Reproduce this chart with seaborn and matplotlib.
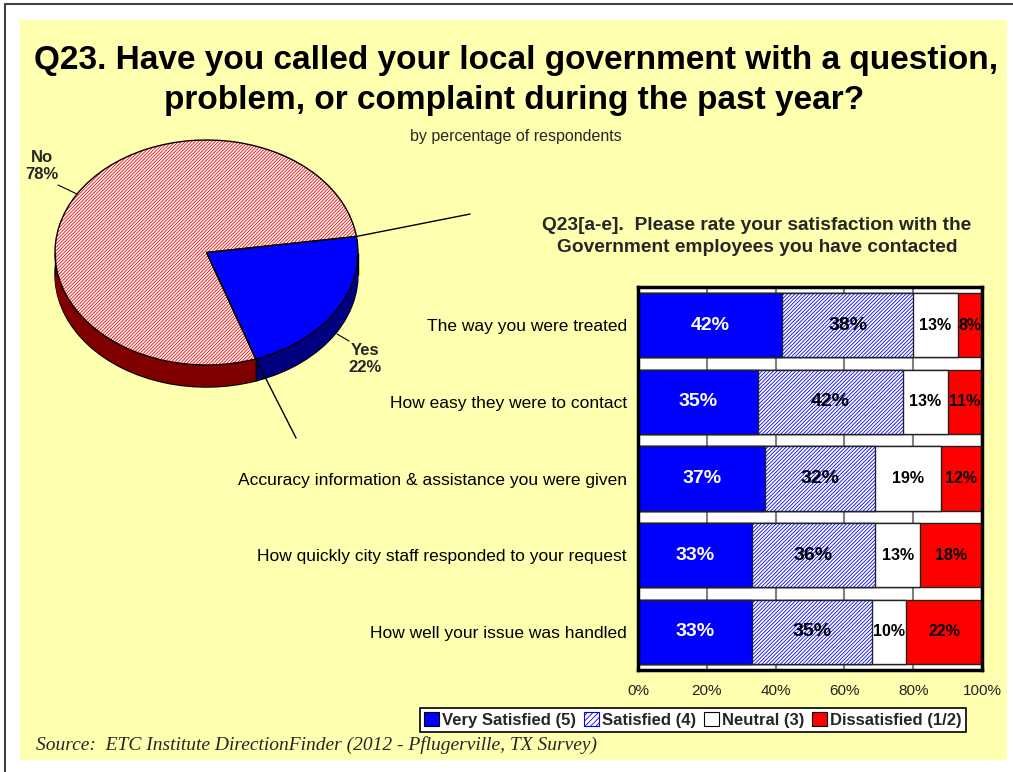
import numpy as np
import pandas as pd
import matplotlib
matplotlib.use("Agg")
import matplotlib.pyplot as plt
from matplotlib.patches import Rectangle, Patch
from matplotlib.lines import Line2D
import seaborn as sns

# Q23: called local government during the past year
pie_labels = ["Yes", "No"]
pie_values = [22, 78]

# Q23[a-e]: satisfaction with government employees (percent of respondents)
items = [
    "The way you were treated",
    "How easy they were to contact",
    "Accuracy information & assistance you were given",
    "How quickly city staff responded to your request",
    "How well your issue was handled",
]
very_satisfied = [42, 35, 37, 33, 33]
satisfied = [38, 42, 32, 36, 35]
neutral = [13, 13, 19, 13, 10]
dissatisfied = [8, 11, 12, 18, 22]
rating_names = ["Very Satisfied (5)", "Satisfied (4)", "Neutral (3)", "Dissatisfied (1/2)"]
x_ticks = [0, 20, 40, 60, 80, 100]
x_tick_labels = ["0%", "20%", "40%", "60%", "80%", "100%"]

BLUE = "#0000FF"
NAVY = "#000080"
RED = "#FF0000"
MAROON = "#800000"
PANEL = "#FFFFB0"
EDGE = "#222222"
BAR_HATCH = "/" * 9
PIE_HATCH = "/" * 10

sns.set_style("white")
plt.rcParams["font.family"] = ["Liberation Sans", "DejaVu Sans"]
plt.rcParams["hatch.linewidth"] = 0.6

W, H = 1013, 772
fig = plt.figure(figsize=(W / 100, H / 100), dpi=100, facecolor="white")


def px_rect(left, top, right, bottom):
    return [left / W, 1 - bottom / H, (right - left) / W, (bottom - top) / H]


# page frame and yellow slide panel
fig.add_artist(Rectangle((20 / W, 1 - 760 / H), 987 / W, 740 / H,
                         transform=fig.transFigure, facecolor=PANEL,
                         edgecolor="none", zorder=-10))
fig.add_artist(Line2D([5 / W, 1], [1 - 4 / H, 1 - 4 / H], transform=fig.transFigure,
                      color="#404040", lw=1.5))
fig.add_artist(Line2D([5 / W, 5 / W], [0, 1 - 4 / H], transform=fig.transFigure,
                      color="#404040", lw=1.5))

# ---------------- stacked satisfaction bars ----------------
ax = fig.add_axes(px_rect(638, 287, 982, 670))
ax.set_facecolor("white")

df = pd.DataFrame({"item": items, "v1": very_satisfied, "v2": satisfied,
                   "v3": neutral, "v4": dissatisfied})
df["c1"] = df["v1"]
df["c2"] = df["c1"] + df["v2"]
df["c3"] = df["c2"] + df["v3"]
df["c4"] = df["c3"] + df["v4"]

bar_kw = dict(data=df, y="item", orient="y", width=0.84, saturation=1, ax=ax)
sns.barplot(x="c4", color=RED, edgecolor=EDGE, linewidth=1, **bar_kw)
sns.barplot(x="c3", color="white", edgecolor=EDGE, linewidth=1, **bar_kw)
sns.barplot(x="c2", color="white", edgecolor=BLUE, linewidth=0, **bar_kw)
for p in ax.containers[-1]:
    p.set_hatch(BAR_HATCH)
    p.set_edgecolor(BLUE)
    p.set_linewidth(0)
sns.barplot(x="c2", color=EDGE, fill=False, linewidth=1, **bar_kw)
sns.barplot(x="c1", color=BLUE, edgecolor=EDGE, linewidth=1, **bar_kw)

segments = [very_satisfied, satisfied, neutral, dissatisfied]
for i in range(len(items)):
    left = 0
    for k, vals in enumerate(segments):
        v = vals[i]
        right = min(left + v, 100)
        ax.text((left + right) / 2, i, f"{v}%", ha="center", va="center",
                fontsize=14 if k < 2 else 11.5, fontweight="bold",
                color="white" if k == 0 else "black", zorder=5)
        left += v

ax.set_xlim(0, 100)
ax.set_xticks(x_ticks, x_tick_labels)
ax.set_xlabel("")
ax.set_ylabel("")
ax.xaxis.grid(True, color="#808080", lw=1.5)
ax.set_axisbelow(True)
ax.tick_params(axis="x", length=0, pad=10, labelsize=11, labelcolor="#222222")
ax.tick_params(axis="y", length=0, pad=8, labelsize=12.5, labelcolor="black")
for s in ax.spines.values():
    s.set_visible(True)
    s.set_linewidth(2.5)
    s.set_color("black")
    s.set_zorder(6)

# ---------------- 3-D style pie ----------------
pax = fig.add_axes(px_rect(39.85, 128.75, 373.15, 410))
start = -71
depth = 0.196
side_colors = [NAVY, MAROON]

pax.pie(pie_values, startangle=start, center=(0, -depth), colors=side_colors,
        wedgeprops=dict(edgecolor="black", linewidth=1))
for d in np.linspace(depth, 0, 45, endpoint=False)[1:]:
    pax.pie(pie_values, startangle=start, center=(0, -d), colors=side_colors,
            wedgeprops=dict(linewidth=0))

top_wedges, _ = pax.pie(pie_values, startangle=start, colors=[BLUE, "white"],
                        wedgeprops=dict(linewidth=0))
top_wedges[1].set_hatch(PIE_HATCH)
top_wedges[1].set_edgecolor(RED)
top_wedges[1].set_linewidth(0)
pax.pie(pie_values, startangle=start, colors=["none", "none"],
        wedgeprops=dict(edgecolor="black", linewidth=1, fill=False))

a0 = np.deg2rad(start)
a1 = np.deg2rad(start + 360 * pie_values[0] / sum(pie_values))
pax.vlines([np.cos(a0), -1, 1], [np.sin(a0) - depth, -depth, -depth],
           [np.sin(a0), 0, 0], colors="black", lw=1)

# connector lines leaving the slice edges
pax.plot([np.cos(a1), 1.74], [np.sin(a1), 0.342], color="black", lw=1, clip_on=False)
pax.plot([np.cos(a0), 0.591], [np.sin(a0), -1.649], color="black", lw=1, clip_on=False)

# slice labels with short leaders
pax.plot([-0.98, -0.855], [0.60, 0.52], color="black", lw=0.8, clip_on=False)
pax.plot([0.861, 0.941], [-0.724, -0.787], color="black", lw=0.8, clip_on=False)
pax.text(-1.086, 0.77, f"{pie_labels[1]}\n{pie_values[1]}%", ha="center", va="center",
         fontsize=12, fontweight="bold", linespacing=1.15, clip_on=False)
pax.text(1.046, -0.95, f"{pie_labels[0]}\n{pie_values[0]}%", ha="center", va="center",
         fontsize=12, fontweight="bold", linespacing=1.15, clip_on=False)

pax.set_aspect("auto")
pax.set_xlim(-1.1, 1.1)
pax.set_ylim(-1.4, 1.1)
pax.axis("off")

# ---------------- titles, legend, source ----------------
fig.text(516 / W, 1 - 60 / H, "Q23. Have you called your local government with a question,",
         ha="center", va="center", fontsize=24, fontweight="bold", color="black")
fig.text(514 / W, 1 - 100 / H, "problem, or complaint during the past year?",
         ha="center", va="center", fontsize=24, fontweight="bold", color="black")
fig.text(516 / W, 1 - 137 / H, "by percentage of respondents",
         ha="center", va="center", fontsize=11.5)
fig.text(757 / W, 1 - 226 / H, "Q23[a-e].  Please rate your satisfaction with the",
         ha="center", va="center", fontsize=13.8, fontweight="bold")
fig.text(757 / W, 1 - 248 / H, "Government employees you have contacted",
         ha="center", va="center", fontsize=13.8, fontweight="bold")

handles = [
    Patch(facecolor=BLUE, edgecolor="black", linewidth=0.8),
    Patch(facecolor="white", edgecolor=BLUE, hatch="/" * 6, linewidth=0.8),
    Patch(facecolor="white", edgecolor="black", linewidth=0.8),
    Patch(facecolor=RED, edgecolor="black", linewidth=0.8),
]
leg = fig.legend(handles, rating_names, loc="center", bbox_to_anchor=(693 / W, 1 - 720 / H),
                 ncol=4, frameon=True, fancybox=False, edgecolor="black", framealpha=1,
                 prop=dict(weight="bold", size=12), handlelength=0.9, handleheight=0.9,
                 handletextpad=0.15, columnspacing=0.5, borderpad=0.25, borderaxespad=0)
leg.get_frame().set_linewidth(1.2)

fig.text(36 / W, 1 - 745 / H,
         "Source:  ETC Institute DirectionFinder (2012 - Pflugerville, TX Survey)",
         ha="left", va="center", fontsize=14, style="italic", family="Liberation Serif")

fig.savefig("out.png", dpi=100, facecolor="white")
